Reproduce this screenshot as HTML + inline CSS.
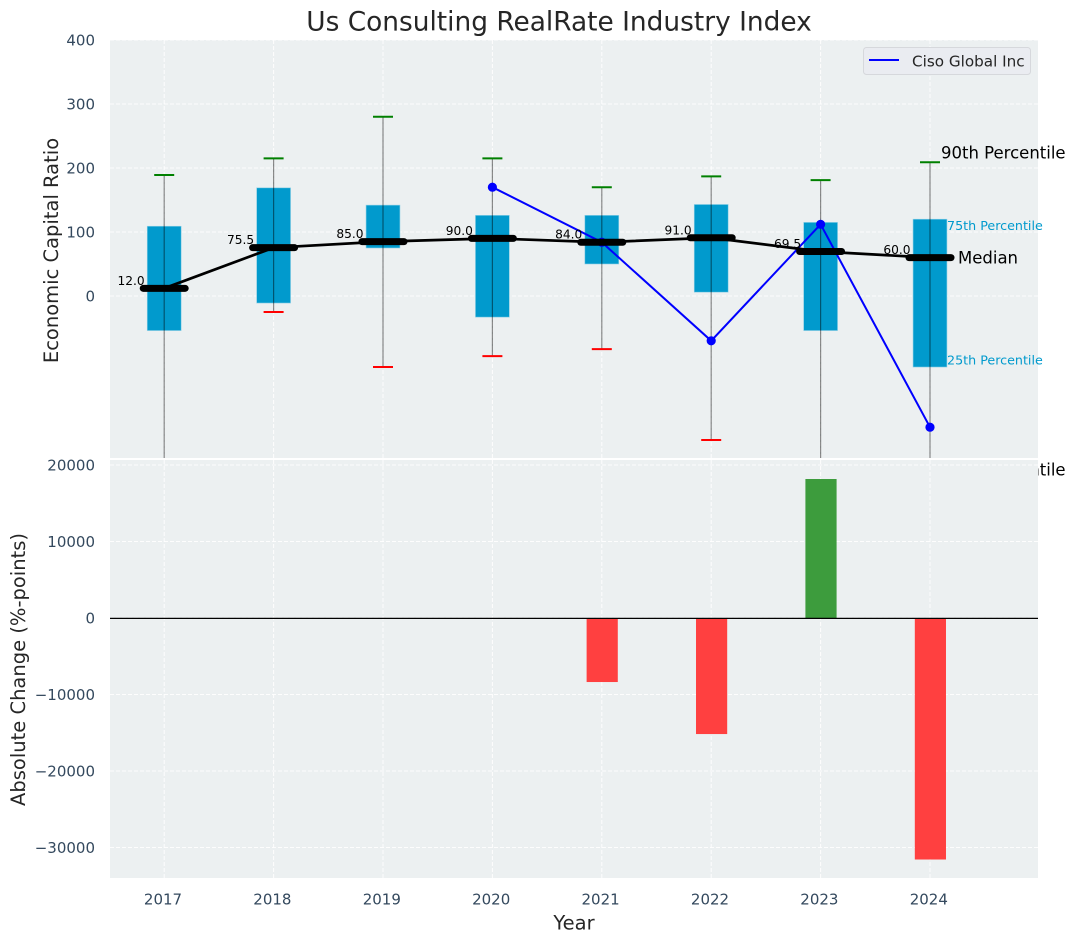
<!DOCTYPE html>
<html lang="en">
<head>
<meta charset="utf-8">
<title>Us Consulting RealRate Industry Index</title>
<style>
html,body{margin:0;padding:0;background:#fff;}
svg{display:block;font-family:"DejaVu Sans","Liberation Sans",sans-serif;}
</style>
</head>
<body>
<svg id="chart" xmlns="http://www.w3.org/2000/svg" width="1076" height="942" viewBox="0 0 1076 942">
<defs>
<clipPath id="top-clip"><rect x="110" y="40" width="928" height="418"/></clipPath>
<clipPath id="bottom-clip"><rect x="110" y="460" width="928" height="418"/></clipPath>
</defs>
</svg>
<script>
const years = [2017, 2018, 2019, 2020, 2021, 2022, 2023, 2024];
const q1Values = [-54, -11, 75, -33, 50, 6, -54, -111];
const q3Values = [109, 169, 142, 126, 126, 143, 115, 120];
const p90Values = [189, 215, 280, 215, 170, 187, 181, 209];
const p10Values = [-290, -25, -111, -94, -83, -225, -290, -286];
const medianValues = [12, 75.5, 85, 90, 84, 91, 69.5, 60];
const cisoYears = [2020, 2021, 2022, 2023, 2024];
const cisoValues = [170, 84, -70, 112, -205];
const changeYears = [2021, 2022, 2023, 2024];
const changeValues = [-8370, -15170, 18170, -31570];
const topTicks = [0, 100, 200, 300, 400];
const bottomTicks = [-30000, -20000, -10000, 0, 10000, 20000];

const NS = 'http://www.w3.org/2000/svg';
const svg = document.getElementById('chart');
const xScale = function (year) { return 164.2 + (year - 2017) * 109.4; };
const yTop = function (v) { return 296 - v * 0.64; };
const yBottom = function (v) { return 618 - v * 0.00765; };
const PX_PER_YEAR = 109.4;

function make(tag, attrs, parent, text) {
  const el = document.createElementNS(NS, tag);
  for (const k in attrs) el.setAttribute(k, attrs[k]);
  if (text !== undefined) el.textContent = text;
  (parent || svg).appendChild(el);
  return el;
}
function fmtTick(v) { return v < 0 ? '\u2212' + Math.abs(v) : String(v); }

/* ---------- top axes ---------- */
const topBg = make('rect', {x: 110, y: 40, width: 928, height: 418, fill: '#ecf0f1'});



topTicks.forEach(function (t) {
  const g = make('line', {x1: 110, x2: 1038, y1: yTop(t), y2: yTop(t), stroke: '#fff', 'stroke-width': 1, 'stroke-dasharray': '4 2', opacity: 0.9});
  
  
  const lab = make('text', {x: 95, y: yTop(t) + 5.5, 'text-anchor': 'end', 'font-size': 15, fill: '#34495e'}, svg, fmtTick(t));
  
  
});
years.forEach(function (yr) {
  const g = make('line', {x1: xScale(yr), x2: xScale(yr), y1: 40, y2: 458, stroke: '#fff', 'stroke-width': 1, 'stroke-dasharray': '4 2', opacity: 0.9});
  
  
});

const topLayer = make('g', {'clip-path': 'url(#top-clip)'});



years.forEach(function (yr, i) {
  const x = xScale(yr);
  const w = 0.31 * PX_PER_YEAR;
  const box = make('rect', {x: x - w / 2, y: yTop(q3Values[i]), width: w, height: yTop(q1Values[i]) - yTop(q3Values[i]), fill: '#019acd', stroke: '#8fd0e6', 'stroke-width': 0.6}, topLayer);
  
  
});
years.forEach(function (yr, i) {
  const x = xScale(yr);
  const wh = make('line', {x1: x, x2: x, y1: yTop(p90Values[i]), y2: yTop(p10Values[i]), stroke: '#000', 'stroke-opacity': 0.45, 'stroke-width': 1.2}, topLayer);
  
  
  const capHi = make('line', {x1: x - 10, x2: x + 10, y1: yTop(p90Values[i]), y2: yTop(p90Values[i]), stroke: '#008000', 'stroke-width': 2}, topLayer);
  
  
  const capLo = make('line', {x1: x - 10, x2: x + 10, y1: yTop(p10Values[i]), y2: yTop(p10Values[i]), stroke: '#ff0000', 'stroke-width': 2}, topLayer);
  
  
});

const cisoLine = make('polyline', {
  points: cisoYears.map(function (yr, i) { return xScale(yr) + ',' + yTop(cisoValues[i]); }).join(' '),
  fill: 'none', stroke: '#0000ff', 'stroke-width': 2
}, topLayer);


cisoYears.forEach(function (yr, i) {
  const pt = make('circle', {cx: xScale(yr), cy: yTop(cisoValues[i]), r: 4.6, fill: '#0000ff'}, topLayer);
  
  
});

const medLine = make('polyline', {
  points: years.map(function (yr, i) { return xScale(yr) + ',' + yTop(medianValues[i]); }).join(' '),
  fill: 'none', stroke: '#000', 'stroke-width': 2.7
}, topLayer);


years.forEach(function (yr, i) {
  const x = xScale(yr);
  const y = yTop(medianValues[i]);
  const m = make('line', {x1: x - 21, x2: x + 21, y1: y, y2: y, stroke: '#000', 'stroke-width': 7, 'stroke-linecap': 'round'}, topLayer);
  
  
});
years.forEach(function (yr, i) {
  const lab = make('text', {x: xScale(yr) - 19.5, y: yTop(medianValues[i]) - 3.5, 'text-anchor': 'end', 'font-size': 12.2, fill: '#000'}, svg, medianValues[i].toFixed(1));
  
  
});

/* annotations on last box */
const lastIdx = years.length - 1;
const lastX = xScale(years[lastIdx]);
const a90 = make('text', {x: lastX + 11, y: yTop(p90Values[lastIdx]) - 3.5, 'font-size': 16.5, fill: '#000'}, svg, '90th Percentile');


const a75 = make('text', {x: lastX + 17, y: yTop(q3Values[lastIdx]) + 11, 'font-size': 12.7, fill: '#019acd'}, svg, '75th Percentile');


const aMed = make('text', {x: lastX + 28, y: yTop(medianValues[lastIdx]) + 6, 'font-size': 16.5, fill: '#000'}, svg, 'Median');


const a25 = make('text', {x: lastX + 17, y: yTop(q1Values[lastIdx]) - 2.5, 'font-size': 12.7, fill: '#019acd'}, svg, '25th Percentile');


const a10 = make('text', {x: lastX + 11, y: yTop(p10Values[lastIdx]) - 3.5, 'font-size': 16.5, fill: '#000'}, svg, '10th Percentile');



/* legend */
const legend = make('g', {});


const legBox = make('rect', {x: 863.5, y: 47.5, width: 167, height: 27, rx: 3, fill: '#eaecf1', stroke: '#d6d8dc', 'stroke-width': 1}, legend);


const legLine = make('line', {x1: 869, x2: 899, y1: 60, y2: 60, stroke: '#0000ff', 'stroke-width': 2}, legend);


const legText = make('text', {x: 912, y: 66.5, 'font-size': 15.2, fill: '#262626'}, legend, 'Ciso Global Inc');



/* ---------- bottom axes (covers the 10th percentile annotation) ---------- */
const botBg = make('rect', {x: 110, y: 460, width: 928, height: 418, fill: '#ecf0f1'});



bottomTicks.forEach(function (t) {
  const g = make('line', {x1: 110, x2: 1038, y1: yBottom(t), y2: yBottom(t), stroke: '#fff', 'stroke-width': 1, 'stroke-dasharray': '4 2', opacity: 0.9});
  
  
  const lab = make('text', {x: 95, y: yBottom(t) + 5.5, 'text-anchor': 'end', 'font-size': 15, fill: '#34495e'}, svg, fmtTick(t));
  
  
});
years.forEach(function (yr) {
  const g = make('line', {x1: xScale(yr), x2: xScale(yr), y1: 460, y2: 878, stroke: '#fff', 'stroke-width': 1, 'stroke-dasharray': '4 2', opacity: 0.9});
  
  
  const lab = make('text', {x: xScale(yr) - 1.2, y: 904.5, 'text-anchor': 'middle', 'font-size': 15, fill: '#34495e'}, svg, String(yr));
  
  
});

const botLayer = make('g', {'clip-path': 'url(#bottom-clip)'});


changeYears.forEach(function (yr, i) {
  const v = changeValues[i];
  const w = 0.285 * PX_PER_YEAR;
  const top = Math.min(yBottom(v), yBottom(0));
  const h = Math.abs(yBottom(v) - yBottom(0));
  const bar = make('rect', {x: xScale(yr) - w / 2 + 0.4, y: top, width: w, height: h, fill: v < 0 ? '#ff4040' : '#3d9c3d'}, botLayer);
  
  
});
const zero = make('line', {x1: 110, x2: 1038, y1: yBottom(0) + 0.4, y2: yBottom(0) + 0.4, stroke: '#000', 'stroke-width': 1.3});



/* ---------- titles ---------- */
const title = make('text', {x: 559, y: 30.5, 'text-anchor': 'middle', 'font-size': 26.4, fill: '#262626'}, svg, 'Us Consulting RealRate Industry Index');


const yl1 = make('text', {x: 0, y: 0, transform: 'translate(58 250.5) rotate(-90)', 'text-anchor': 'middle', 'font-size': 19.5, fill: '#262626'}, svg, 'Economic Capital Ratio');


const yl2 = make('text', {x: 0, y: 0, transform: 'translate(25 669.5) rotate(-90)', 'text-anchor': 'middle', 'font-size': 19.5, fill: '#262626'}, svg, 'Absolute Change (%-points)');


const xl = make('text', {x: 574, y: 929.5, 'text-anchor': 'middle', 'font-size': 19.5, fill: '#262626'}, svg, 'Year');


</script>
</body>
</html>
